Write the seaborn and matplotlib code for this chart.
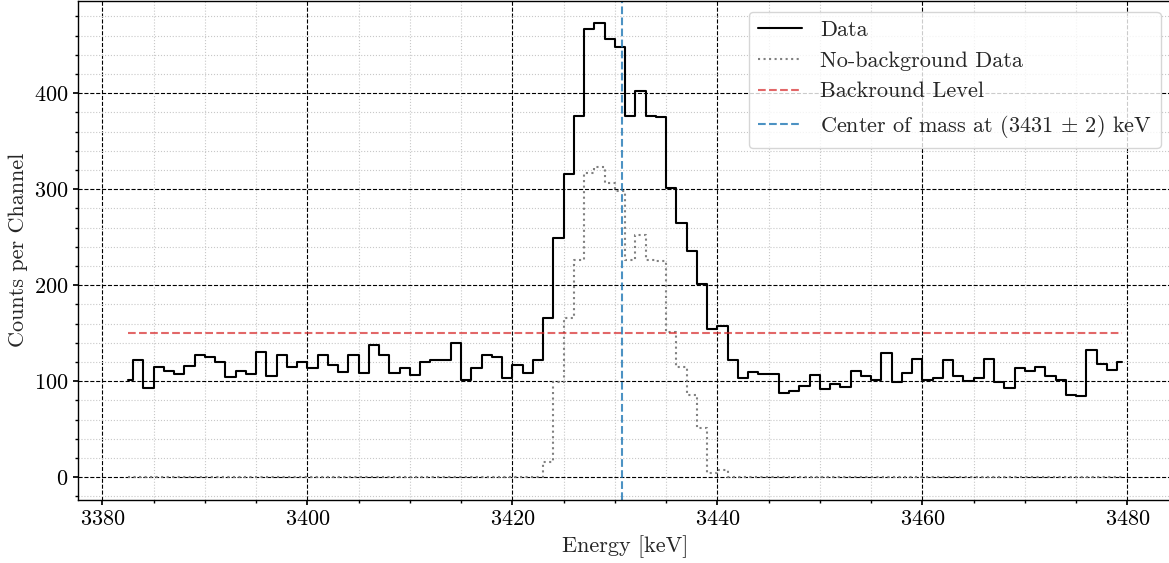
import numpy as np
import pandas as pd
import matplotlib
matplotlib.use("Agg")
import matplotlib.pyplot as plt
import seaborn as sns
from matplotlib.ticker import MultipleLocator

# ---- data -------------------------------------------------------------
# channel centres (1 keV wide channels)
energies = np.arange(3382.5, 3480.0, 1.0)

counts = [
    101, 122, 93, 115, 111, 108, 116, 127, 125, 120,
    104, 111, 108, 131, 106, 127, 115, 120, 114, 127,
    117, 110, 127, 109, 138, 127, 109, 114, 107, 120,
    122, 122, 140, 101, 114, 127, 125, 103, 117, 109,
    122, 166, 249, 316, 376, 467, 473, 457, 448, 376,
    402, 376, 375, 301, 265, 236, 201, 154, 158, 122,
    103, 110, 108, 108, 88, 90, 95, 107, 92, 97,
    94, 111, 106, 101, 129, 99, 109, 123, 101, 103,
    122, 105, 100, 103, 123, 99, 93, 114, 111, 115,
    106, 101, 86, 85, 133, 118, 112, 120,
]

background_level = 150

no_background = (
    [0] * 41
    + [16, 99, 166, 226, 317, 323, 307, 298, 226, 252,
       226, 225, 151, 115, 86, 51, 4, 8]
    + [0] * 39
)

center_label = r"Center of mass at (3431 $\pm$ 2) keV"

# ---- style ------------------------------------------------------------
sns.set_theme(style="ticks")
plt.rcParams.update({
    "font.family": ["cmr10", "DejaVu Serif"],
    "mathtext.fontset": "cm",
    "axes.formatter.use_mathtext": True,
    "axes.unicode_minus": False,
    "font.size": 16,
    "axes.labelsize": 16,
    "xtick.labelsize": 16,
    "ytick.labelsize": 16,
    "legend.fontsize": 16,
    "axes.edgecolor": "black",
    "axes.linewidth": 1.0,
    "xtick.color": "black",
    "ytick.color": "black",
    "xtick.major.size": 3.5,
    "ytick.major.size": 3.5,
    "xtick.minor.size": 2.0,
    "ytick.minor.size": 2.0,
})

df = pd.DataFrame({
    "Energy": energies,
    "Counts": counts,
    "NoBg": no_background,
    "Bg": [background_level] * len(energies),
})

center = np.average(df["Energy"], weights=df["NoBg"])

fig = plt.figure(figsize=(11.69, 5.63), dpi=100)
ax = fig.add_axes([0.0669, 0.1119, 0.9356, 0.8872])

sns.lineplot(data=df, x="Energy", y="Counts", drawstyle="steps-mid",
             color="black", lw=1.5, label="Data", ax=ax)
sns.lineplot(data=df, x="Energy", y="NoBg", drawstyle="steps-mid",
             color="gray", lw=1.5, linestyle=":", label="No-background Data", ax=ax)
sns.lineplot(data=df, x="Energy", y="Bg", color="tab:red", alpha=0.7,
             lw=1.5, linestyle="--", label="Backround Level", ax=ax)
ax.axvline(center, color="tab:blue", alpha=0.8, lw=1.5, linestyle="--",
           label=center_label)

ax.xaxis.set_minor_locator(MultipleLocator(5))
ax.yaxis.set_minor_locator(MultipleLocator(20))
ax.yaxis.set_major_locator(MultipleLocator(100))
ax.grid(which="major", linestyle="--", color="black", lw=0.8)
ax.grid(which="minor", linestyle=":", color="#c8c8c8", lw=0.8)
ax.set_axisbelow(True)
ax.tick_params(which="both", direction="out", bottom=True, left=True)

ax.set_xlabel("Energy [keV]")
ax.set_ylabel("Counts per Channel")
ax.legend(loc="upper right", framealpha=0.8)

fig.savefig("out.png", dpi=100)
